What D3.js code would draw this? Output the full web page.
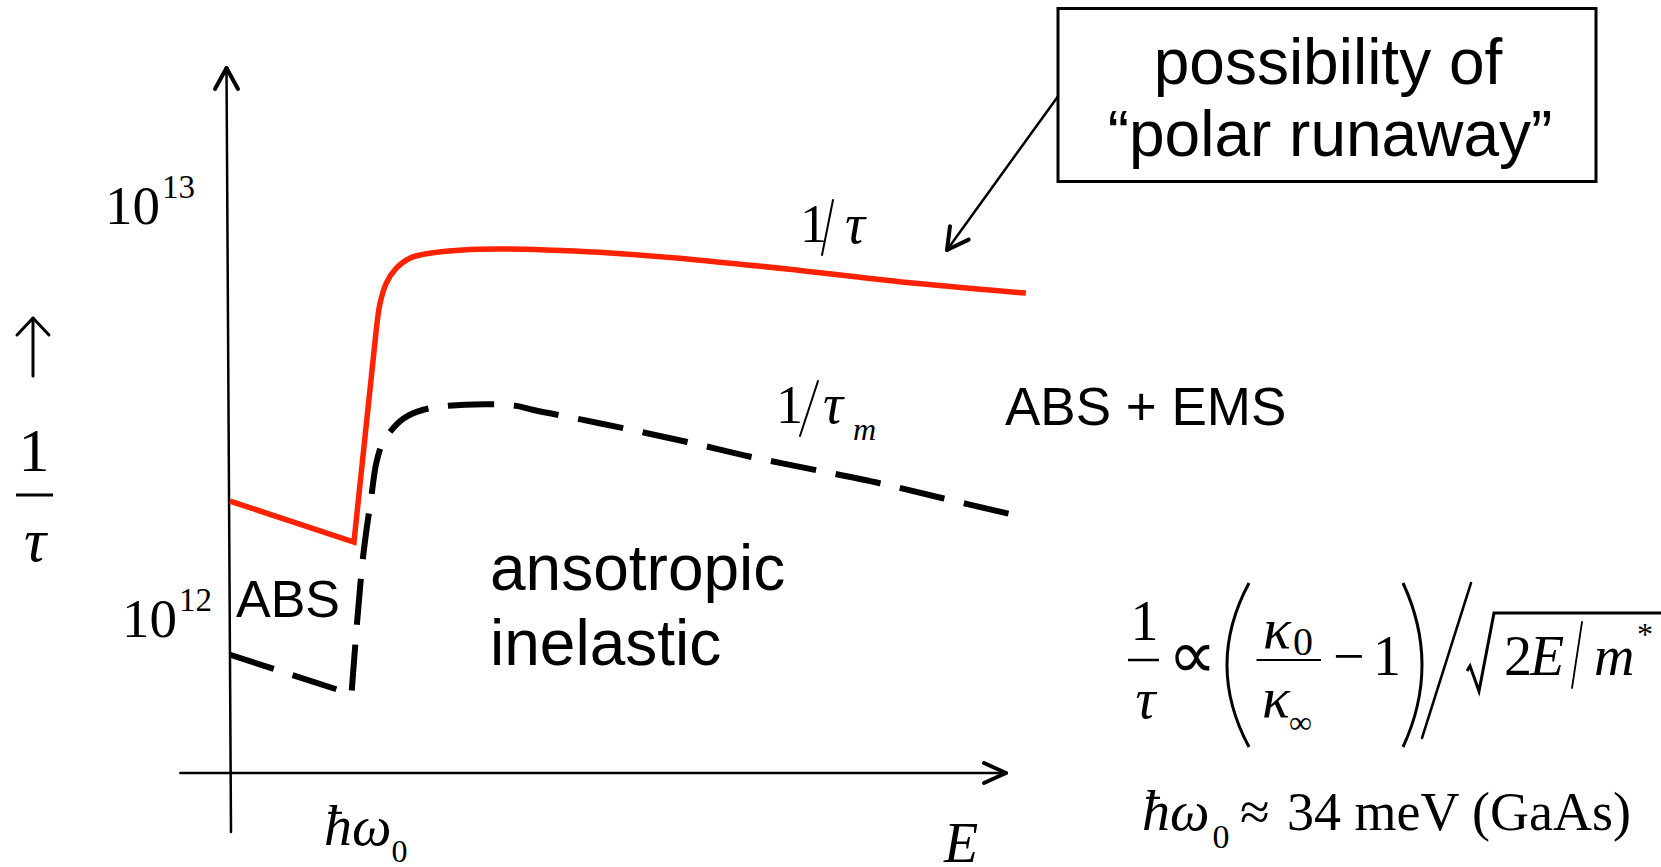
<!DOCTYPE html>
<html>
<head>
<meta charset="utf-8">
<script src="https://cdn.jsdelivr.net/npm/d3@7/dist/d3.min.js"></script>
<style>
  body { margin: 0; background: #fff; }
  svg { display: block; }
</style>
</head>
<body>
<script>
// energy in units of the optical phonon energy (hbar*omega0 = 1)
var redE    = [0, 1.00, 1.18, 1.21, 1.26, 1.34, 1.45, 1.61, 1.88, 2.15, 2.55, 2.98, 3.79, 4.60, 5.40, 6.42];
// total scattering rate 1/tau, s^-1
var redRate = [1.91e12, 1.52e12, 4.97e12, 5.75e12, 6.44e12, 7.00e12, 7.41e12, 7.62e12,
               7.76e12, 7.80e12, 7.76e12, 7.66e12, 7.33e12, 6.92e12, 6.50e12, 6.10e12];

var momE    = [0, 0.98, 1.07, 1.14, 1.18, 1.23, 1.29, 1.40, 1.56, 1.75, 2.10, 2.31, 2.44, 2.98, 3.68, 4.19, 4.73, 5.24, 5.75, 6.28];
// momentum relaxation rate 1/tau_m, s^-1
var momRate = [0.81e12, 0.65e12, 1.37e12, 1.96e12, 2.36e12, 2.64e12, 2.81e12, 3.03e12, 3.18e12, 3.25e12,
               3.28e12, 3.25e12, 3.18e12, 2.95e12, 2.66e12, 2.45e12, 2.27e12, 2.11e12, 1.94e12, 1.78e12];

var yTicks   = [1e12, 1e13];
var yTickExp = ["12", "13"];

var W = 1661, H = 867;
var SERIF = "'Liberation Serif','Times New Roman',serif";
var SANS  = "'Liberation Sans',Arial,sans-serif";

var svg = d3.select("body").append("svg")
    .attr("width", W)
    .attr("height", H);

var x = d3.scaleLinear().domain([0, 6.26]).range([230, 1006]);
var y = d3.scaleLog().domain([1e12, 1e13]).range([617, 204.5]);

var axisY = 773,
    axisTop = 68,
    axisBottom = 832;

function txt(px, py, s, size, family, style) {
    return svg.append("text")
        .attr("x", px).attr("y", py)
        .style("font-family", family)
        .style("font-size", size + "px")
        .style("font-style", style || "normal")
        .style("fill", "#000")
        .text(s);
}
function seg(x1, y1, x2, y2, w) {
    return svg.append("line")
        .attr("x1", x1).attr("y1", y1).attr("x2", x2).attr("y2", y2)
        .style("stroke", "#000").style("stroke-width", w)
        .style("stroke-linecap", "round");
}

// ---- axes
seg(x(0) - 3.5, axisTop, x(0) + 1, axisBottom, 2.5);
seg(x(0) - 3.5, axisTop, x(0) - 15, axisTop + 21, 4);
seg(x(0) - 3.5, axisTop, x(0) + 8, axisTop + 21, 4);

seg(x(-0.4), axisY, x(6.26), axisY, 2.7);
seg(x(6.26), axisY, x(6.26) - 22, axisY - 10, 4);
seg(x(6.26), axisY, x(6.26) - 22, axisY + 10, 4);

// y tick labels 10^12, 10^13
var tickLeft = [122, 105];
yTicks.forEach(function (t, i) {
    var tt = txt(tickLeft[i], y(t) + 19.5, "10", 55, SERIF);
    tt.append("tspan").attr("dx", 2).attr("dy", -26)
        .style("font-size", "33px").text(yTickExp[i]);
});

// y axis label: up arrow and 1/tau
seg(33, 376, 33, 319, 3);
seg(33, 318, 17, 335, 3);
seg(33, 318, 49, 335, 3);
txt(34, 471, "1", 62, SERIF).attr("text-anchor", "middle");
seg(16, 495, 53, 495, 3).style("stroke-linecap", "butt");
txt(35, 561, "τ", 62, SERIF, "italic").attr("text-anchor", "middle");

// x axis labels
txt(944, 862, "E", 56, SERIF, "italic");
var hw = txt(324, 845, "ħω", 56, SERIF, "italic");
hw.append("tspan").attr("dy", 17).style("font-size", "32px").style("font-style", "normal").text("0");

// ---- curves: straight into and out of the kink at hbar*omega0, smooth afterwards
var lin = d3.line().x(function (d) { return x(d[0]); }).y(function (d) { return y(d[1]); });
var smooth = d3.line().x(function (d) { return x(d[0]); }).y(function (d) { return y(d[1]); })
    .curve(d3.curveCatmullRom.alpha(0.5));
function kinked(pts, k) {
    return lin(pts.slice(0, k + 1)) + smooth(pts.slice(k)).replace(/^M[^A-Za-z]*/, "");
}

var redPts = d3.zip(redE, redRate);
var momPts = d3.zip(momE, momRate);

var mom = svg.append("path")
    .attr("d", kinked(momPts, 1))
    .style("fill", "none")
    .style("stroke", "#000")
    .style("stroke-width", 6);
// stretch the gaps a little so the dashes end on a full dash
var L = mom.node().getTotalLength(),
    nd = Math.round((L + 18) / 64),
    gap = (L - nd * 46) / (nd - 1);
mom.style("stroke-dasharray", "46," + gap.toFixed(2));

svg.append("path")
    .attr("d", kinked(redPts, 2))
    .style("fill", "none")
    .style("stroke", "#ff2200")
    .style("stroke-width", 5.5)
    .style("stroke-linejoin", "miter");

// curve labels
txt(800, 242, "1", 54, SERIF);
seg(833, 200, 822, 255, 2);
txt(845, 243, "τ", 56, SERIF, "italic");

txt(776, 423, "1", 54, SERIF);
seg(818, 381, 800, 436, 2);
txt(823, 423, "τ", 56, SERIF, "italic");
txt(853, 440, "m", 32, SERIF, "italic");

// region labels
txt(236, 617, "ABS", 52, SANS);
txt(1005, 425, "ABS + EMS", 53, SANS);
txt(490, 590, "ansotropic", 64, SANS);
txt(490, 665, "inelastic", 64, SANS);

// ---- callout box
svg.append("rect")
    .attr("x", 1058).attr("y", 8.5).attr("width", 538).attr("height", 173)
    .style("fill", "none").style("stroke", "#000").style("stroke-width", 3);
txt(1328, 84, "possibility of", 64, SANS).attr("text-anchor", "middle");
txt(1330, 156, "\u201Cpolar runaway\u201D", 64, SANS).attr("text-anchor", "middle");

var ax0 = 1057.7, ay0 = 96.7, ax1 = 947, ay1 = 250;
seg(ax0, ay0, ax1, ay1, 2.5);
(function () {
    var a = Math.atan2(ay0 - ay1, ax0 - ax1), len = 24, s = 0.5;
    seg(ax1, ay1, ax1 + len * Math.cos(a + s), ay1 + len * Math.sin(a + s), 4);
    seg(ax1, ay1, ax1 + len * Math.cos(a - s), ay1 + len * Math.sin(a - s), 4);
})();

// ---- formula
txt(1144.5, 640, "1", 56, SERIF).attr("text-anchor", "middle");
seg(1128, 660, 1159, 660, 2.5).style("stroke-linecap", "butt");
txt(1145.5, 718, "τ", 56, SERIF, "italic").attr("text-anchor", "middle");
txt(1192, 678, "\u221D", 68, SERIF).attr("text-anchor", "middle");

svg.append("path").attr("d", "M1249,583 Q1205,665 1249,747")
    .style("fill", "none").style("stroke", "#000").style("stroke-width", 3);
svg.append("path").attr("d", "M1403,583 Q1441,665 1403,747")
    .style("fill", "none").style("stroke", "#000").style("stroke-width", 3);

txt(1263, 648, "κ", 58, SERIF, "italic");
txt(1293, 655, "0", 40, SERIF);
seg(1256.5, 660, 1321, 660, 2).style("stroke-linecap", "butt");
txt(1262, 717, "κ", 58, SERIF, "italic");
txt(1289, 733, "\u221E", 32, SERIF);
txt(1333, 675, "\u2212", 56, SERIF);
txt(1373, 675, "1", 56, SERIF);

seg(1471, 583, 1422, 738, 2.5);

svg.append("path").attr("d", "M1467,671 L1470,666 L1479,691 L1494,613 L1661,613")
    .style("fill", "none").style("stroke", "#000").style("stroke-width", 3)
    .style("stroke-linejoin", "miter");
txt(1504, 675, "2", 56, SERIF);
txt(1530, 675, "E", 56, SERIF, "italic");
seg(1582, 622, 1572, 688, 1.8);
txt(1594, 675, "m", 56, SERIF, "italic");
txt(1637, 645, "*", 32, SERIF);

var hw2 = txt(1142, 830, "ħω", 56, SERIF, "italic");
hw2.append("tspan").attr("dx", 3).attr("dy", 18).style("font-size", "34px").style("font-style", "normal").text("0");
txt(1240, 830, "\u2248", 54, SERIF);
txt(1287, 830, "34 meV (GaAs)", 54, SERIF);
</script>
</body>
</html>
